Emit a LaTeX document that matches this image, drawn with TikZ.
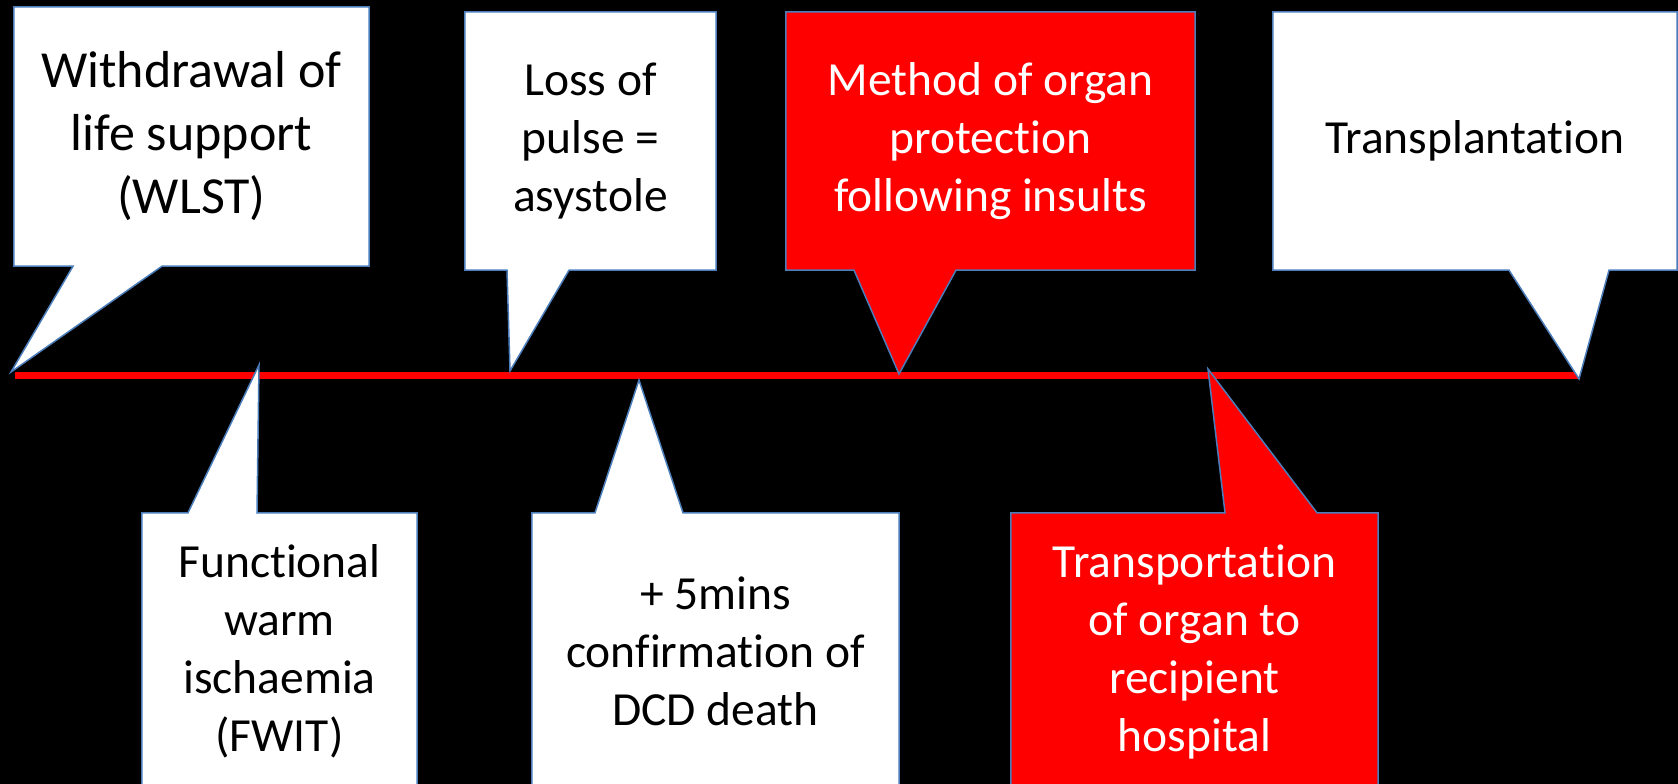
\documentclass[tikz,border=0pt]{standalone}
\usepackage{fontspec}
\setmainfont[Ligatures=NoCommon, RawFeature={-liga;-clig;-calt}]{Carlito}
\usepackage{tikz}
\usetikzlibrary{positioning,calc}
\pgfdeclarelayer{background}
\pgfsetlayers{background,main}
\definecolor{dcdborder}{rgb}{0.29, 0.49, 0.73}
\definecolor{dcdred}{rgb}{1, 0, 0}
\tikzstyle{timeline} = [dcdred, line width = 7pt]
\tikzstyle{calloutbox} = [rectangle, inner sep = 0pt, align = center, text = black, font = \fontsize{47.5}{58}\selectfont]
\tikzstyle{calloutshape} = [draw = dcdborder, line width = 1.5pt, line join = miter]
\tikzstyle{calloutwhite} = [calloutshape, fill = white]
\tikzstyle{calloutred} = [calloutshape, fill = dcdred]

\begin{document}
\begin{tikzpicture}[x = 1pt, y = -1pt]
\useasboundingbox (0,0) rectangle (1678,784);
% boxes above the line
\node[calloutbox, minimum width = 355pt, minimum height = 259pt, font = \fontsize{52}{63}\selectfont] (wlst) at (191.5,136.5) {Withdrawal of\\life support\\(WLST)};
\node[calloutbox, minimum width = 251pt, minimum height = 258pt] (pulse) at (590.5,141) {Loss of\\pulse =\\asystole};
\node[calloutbox, minimum width = 409pt, minimum height = 258pt, text = white] (method) at (990.5,141) {Method of organ\\protection\\following insults};
\node[calloutbox, minimum width = 404pt, minimum height = 258pt] (transplant) at (1475,141) {Transplantation};
% boxes below the line
\node[calloutbox, minimum width = 275pt, minimum height = 277pt] (fwit) at (279.5,651.5) {Functional\\warm\\ischaemia\\(FWIT)};
\node[calloutbox, minimum width = 367pt, minimum height = 277pt] (confirm) at (715.5,651.5) {+ 5mins\\confirmation of\\DCD death};
\node[calloutbox, minimum width = 367pt, minimum height = 277pt, text = white] (transport) at (1194.5,651.5) {Transportation\\of organ to\\recipient\\hospital};
% points on the time line
\coordinate (t0) at (15,375);
\coordinate (t1) at (1578,375);
\coordinate (wlstpt) at (11,372);
\coordinate (pulsept) at (510,371);
\coordinate (methodpt) at (899,374);
\coordinate (transplantpt) at (1579,379);
\coordinate (fwitpt) at (259,365);
\coordinate (confirmpt) at (639,380);
\coordinate (transportpt) at (1208,369);
\begin{pgfonlayer}{background}
\clip (0,0) rectangle (1678,784);
\fill[black] (0,0) rectangle (1678,784);
\draw[timeline] (t0) -- (t1);
\draw[calloutwhite] (wlst.north west) -- (wlst.north east) -- (wlst.south east) -- (162,0 |- wlst.south) -- (wlstpt) -- (73,0 |- wlst.south) -- (wlst.south west) -- cycle;
\draw[calloutwhite] (pulse.north west) -- (pulse.north east) -- (pulse.south east) -- (569,0 |- pulse.south) -- (pulsept) -- (507,0 |- pulse.south) -- (pulse.south west) -- cycle;
\draw[calloutred] (method.north west) -- (method.north east) -- (method.south east) -- (956,0 |- method.south) -- (methodpt) -- (854,0 |- method.south) -- (method.south west) -- cycle;
\draw[calloutwhite] (transplant.north west) -- (transplant.north east) -- (transplant.south east) -- (1609,0 |- transplant.south) -- (transplantpt) -- (1509,0 |- transplant.south) -- (transplant.south west) -- cycle;
\draw[calloutwhite] (fwit.north west) -- (188,0 |- fwit.north) -- (fwitpt) -- (257,0 |- fwit.north) -- (fwit.north east) -- (fwit.south east) -- (fwit.south west) -- cycle;
\draw[calloutwhite] (confirm.north west) -- (595,0 |- confirm.north) -- (confirmpt) -- (683,0 |- confirm.north) -- (confirm.north east) -- (confirm.south east) -- (confirm.south west) -- cycle;
\draw[calloutred] (transport.north west) -- (1225,0 |- transport.north) -- (transportpt) -- (1317,0 |- transport.north) -- (transport.north east) -- (transport.south east) -- (transport.south west) -- cycle;
\end{pgfonlayer}
\end{tikzpicture}
\end{document}
